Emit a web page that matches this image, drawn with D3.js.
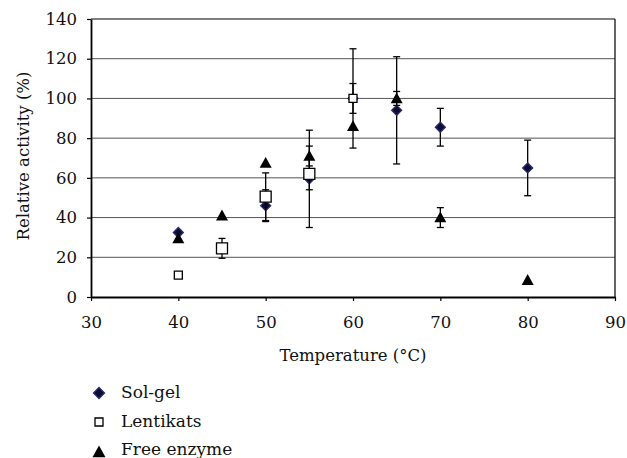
<!DOCTYPE html>
<html><head><meta charset="utf-8">
<script src="https://cdn.jsdelivr.net/npm/d3@7"></script>
<style>body{margin:0;background:#fff}svg{display:block}</style>
</head><body>
<svg id="c" width="627" height="458"></svg>
<script>
const xTicks = [30,40,50,60,70,80,90];
const yTicks = [0,20,40,60,80,100,120,140];
const seriesNames = ["Sol-gel","Lentikats","Free enzyme"];
const solGel = [
  {t:40,v:32.5,e:0},{t:50,v:46,e:8},{t:55,v:59.5,e:24.5},{t:60,v:100,e:25},
  {t:65,v:94,e:27},{t:70,v:85.5,e:9.5},{t:80,v:65,e:14}
];
const lentikats = [
  {t:40,v:11,e:1.5},{t:45,v:24.5,e:5},{t:50,v:50.5,e:12},{t:55,v:62,e:8},{t:60,v:100,e:7.5}
];
const freeEnzyme = [
  {t:40,v:29.5,e:0},{t:45,v:41,e:0},{t:50,v:67.5,e:0},{t:55,v:71,e:5},{t:60,v:86,e:0},
  {t:65,v:100,e:3.5},{t:70,v:40,e:5},{t:80,v:8.5,e:0}
];

const svg = d3.select("#c");
const L=91,R=615,T=19,B=297;
const x = d3.scaleLinear().domain([30,90]).range([L,R]);
const y = d3.scaleLinear().domain([0,140]).range([B,T]);
const font = "'DejaVu Serif', 'Liberation Serif', 'Times New Roman', Times, serif";
const fs = 16.5;

svg.append("g").selectAll("line").data(yTicks.filter(d=>d>0)).join("line")
  .attr("x1",L).attr("x2",R).attr("y1",d=>y(d)).attr("y2",d=>y(d))
  .attr("stroke",d=>d===140?"#000":"#555").attr("stroke-width",d=>d===140?1.2:1);
svg.append("line").attr("x1",R).attr("x2",R).attr("y1",T).attr("y2",B).attr("stroke","#000").attr("stroke-width",1.2);

const xa = svg.append("g").attr("transform",`translate(0,${B})`)
  .call(d3.axisBottom(x).tickValues(xTicks).tickSize(4).tickSizeOuter(0).tickPadding(15));
const ya = svg.append("g").attr("transform",`translate(${L},0)`)
  .call(d3.axisLeft(y).tickValues(yTicks).tickSize(4).tickSizeOuter(0).tickPadding(10));
[xa,ya].forEach(a=>{
  a.attr("font-family",null).attr("font-size",null);
  a.select(".domain").attr("stroke","#000").attr("stroke-width",1.8);
  a.selectAll(".tick line").attr("stroke","#000").attr("stroke-width",1.2);
  a.selectAll("text").attr("font-family",font).attr("font-size",fs).attr("fill","#111");
});

svg.append("text").attr("x",353).attr("y",361).attr("text-anchor","middle")
  .attr("font-family",font).attr("font-size",fs).attr("fill","#111").text("Temperature (°C)");
svg.append("text").attr("transform",`translate(29,156) rotate(-90)`).attr("text-anchor","middle")
  .attr("font-family",font).attr("font-size",fs).attr("fill","#111").text("Relative activity (%)");

function errBars(data){
  const g = svg.append("g").attr("stroke","#000").attr("stroke-width",1.3);
  data.filter(d=>d.e>0).forEach(d=>{
    const cx=x(d.t);
    g.append("line").attr("x1",cx).attr("x2",cx).attr("y1",y(d.v+d.e)).attr("y2",y(d.v-d.e));
    [d.v+d.e,d.v-d.e].forEach(v=>g.append("line").attr("x1",cx-3.5).attr("x2",cx+3.5).attr("y1",y(v)).attr("y2",y(v)));
  });
}
const diamond = (cx,cy,r)=>`M${cx},${cy-r}L${cx+r},${cy}L${cx},${cy+r}L${cx-r},${cy}Z`;
const square = (cx,cy,r)=>`M${cx-r},${cy-r}h${2*r}v${2*r}h${-2*r}Z`;
const tri = (cx,cy,r)=>`M${cx},${cy-r}L${cx+r},${cy+r*0.8}L${cx-r},${cy+r*0.8}Z`;

errBars(solGel);
svg.append("g").selectAll("path").data(solGel).join("path")
  .attr("d",d=>diamond(x(d.t),y(d.v),5)).attr("fill","#0d0d2e").attr("stroke","#2a2a78").attr("stroke-width",1.3);
errBars(lentikats);
svg.append("g").selectAll("path").data(lentikats).join("path")
  .attr("d",d=>square(x(d.t),y(d.v),d.t===60||d.t===40?4:5.5)).attr("fill","#fff").attr("stroke","#000").attr("stroke-width",1.3);
errBars(freeEnzyme);
svg.append("g").selectAll("path").data(freeEnzyme).join("path")
  .attr("d",d=>tri(x(d.t),y(d.v),6)).attr("fill","#000");

const lg = svg.append("g");
const ly = [398,427,455];
const my = [393,422,451];
seriesNames.forEach((n,i)=>{
  const cx=99, cy=my[i];
  if(i===0) lg.append("path").attr("d",diamond(cx,cy,5.5)).attr("fill","#0d0d2e").attr("stroke","#2a2a78").attr("stroke-width",1.3);
  if(i===1) lg.append("path").attr("d",square(cx,cy,4)).attr("fill","#fff").attr("stroke","#000").attr("stroke-width",1.3);
  if(i===2) lg.append("path").attr("d",tri(cx,cy+1,6.5)).attr("fill","#000");
  lg.append("text").attr("x",121).attr("y",ly[i]).attr("font-family",font).attr("font-size",17).attr("fill","#111").text(n);
});
</script>
</body></html>
